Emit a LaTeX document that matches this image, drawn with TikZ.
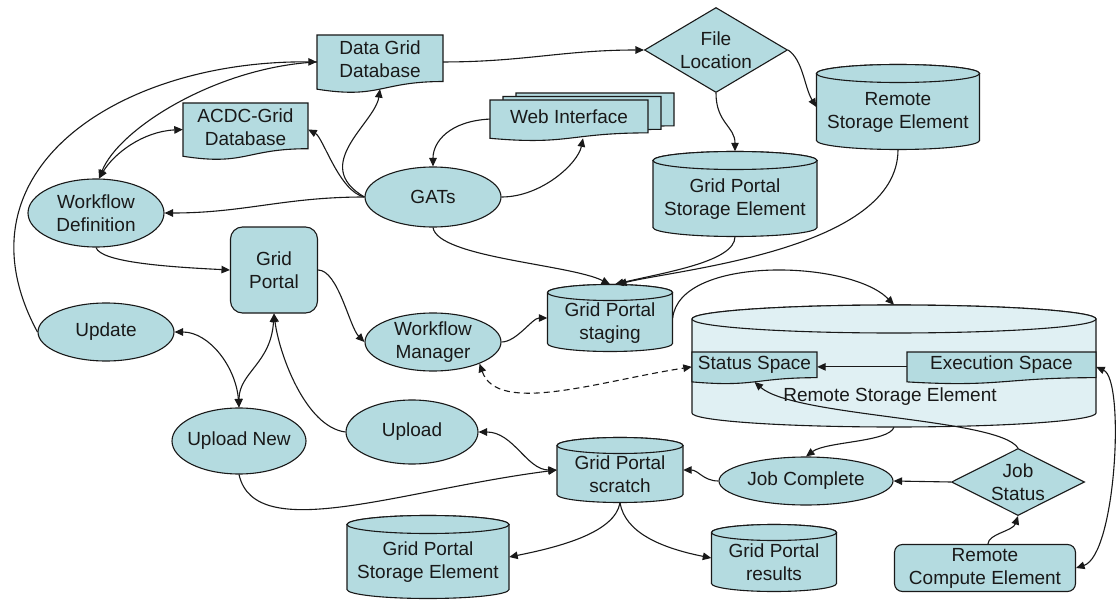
\documentclass[tikz,border=0pt]{standalone}
\usepackage{fontspec}
\setmainfont{Liberation Sans}
\usetikzlibrary{arrows.meta,shapes.geometric}

\definecolor{nodefill}{RGB}{180,219,224}
\definecolor{palefill}{RGB}{224,240,243}
\definecolor{inkline}{RGB}{25,25,25}
\definecolor{inktext}{RGB}{25,25,25}

\tikzset{
  >={Triangle[length=8.5pt,width=7.5pt]},
  lbl/.style={font=\fontsize{19}{23}\selectfont, text=inktext, align=center, inner sep=0pt},
  shapeline/.style={draw=inkline, line width=1.1pt, fill=nodefill},
  oval/.style={lbl, ellipse, shapeline, inner xsep=-20pt, inner ysep=-6pt},
  decision/.style={lbl, diamond, shapeline, aspect=1, inner xsep=-20pt, inner ysep=-8pt},
  roundbox/.style={lbl, rectangle, shapeline, rounded corners=#1},
  conn/.style={draw=inkline, line width=1.1pt},
}

% cylinder (database) with a transparent rectangle node on top;
% the enlarged text height lowers the two-line label below the top cap
% #1 fill, #2 name, #3 cx, #4 cy, #5 width, #6 height, #7 cap radius, #8 text
\newcommand{\dbnode}[8][nodefill]{%
  \pgfmathsetmacro\dbL{#3-#5/2}%
  \pgfmathsetmacro\dbR{#3+#5/2}%
  \pgfmathsetmacro\dbT{#4-#6/2+#7}%
  \pgfmathsetmacro\dbB{#4+#6/2-#7}%
  \pgfmathsetmacro\dbRX{#5/2}%
  \path[shapeline,fill=#1] (\dbL,\dbT) -- (\dbL,\dbB)
     arc[start angle=180,end angle=360,x radius=\dbRX pt,y radius=#7pt]
     -- (\dbR,\dbT)
     arc[start angle=0,end angle=180,x radius=\dbRX pt,y radius=#7pt] -- cycle;
  \path[shapeline,fill=#1] (#3,\dbT) ellipse[x radius=\dbRX pt,y radius=#7pt];
  \node[lbl,text height=46pt,minimum width=#5pt,minimum height=#6pt] (#2) at (#3,#4) {#8};
}

% document outline with a wavy lower edge
% #2 left, #3 top, #4 width, #5 height
\newcommand{\docpath}[5][]{%
  \pgfmathsetmacro\dcR{#2+#4}%
  \pgfmathsetmacro\dcM{#2+#4/2}%
  \pgfmathsetmacro\dcA{#3+0.802*#5}%
  \pgfmathsetmacro\dcB{#3+1.107*#5}%
  \pgfmathsetmacro\dcC{#3+0.934*#5}%
  \path[shapeline,#1] (#2,#3) -- (\dcR,#3) -- (\dcR,\dcA)
     .. controls (\dcM,\dcA) and (\dcM,\dcB) .. (#2,\dcC) -- cycle;
}
% #1 text height, #2 name, #3 left, #4 top, #5 width, #6 height, #7 text
\newcommand{\docnode}[7][10pt]{%
  \docpath{#3}{#4}{#5}{#6}%
  \pgfmathsetmacro\dcX{#3+#5/2}%
  \pgfmathsetmacro\dcY{#4+0.465*#6}%
  \pgfmathsetmacro\dcH{0.93*#6}%
  \node[lbl,text height=#1,minimum width=#5pt,minimum height=\dcH pt] (#2) at (\dcX,\dcY) {#7};
}

\begin{document}
\begin{tikzpicture}[x=1pt,y=-1pt]
\path[fill=white,use as bounding box] (0,0) rectangle (1120,602);

% ---------- stores ----------
\dbnode{rse1}{898}{107}{163}{85}{9}{Remote\\Storage Element}
\dbnode{gpse1}{735}{194}{164}{85}{9}{Grid Portal\\Storage Element}
\dbnode{staging}{610}{318}{125}{67}{8}{Grid Portal\\staging}
\dbnode[palefill]{rse2}{894}{366}{404}{122}{14}{}
\node[lbl] (rse2label) at (890,397) {Remote Storage Element};
\dbnode{scratch}{620}{470}{126}{65}{8}{Grid Portal\\scratch}
\dbnode{gpse2}{428}{557}{162}{83}{9}{Grid Portal\\Storage Element}
\dbnode{results}{774}{558}{125}{67}{8}{Grid Portal\\results}

% ---------- documents ----------
\docnode[32pt]{dgdb}{317}{35}{126}{58}{Data Grid\\Database}
\docnode[32pt]{acdc}{183}{103}{125}{57}{ACDC-Grid\\Database}
\docpath{516}{93}{158}{41}
\docpath{503}{96.5}{158}{41}
\docnode{web}{490}{100}{158}{41}{Web Interface}
\docnode{status}{692}{352}{125}{32}{Status Space}
\docnode{exec}{907}{352}{189}{32}{Execution Space}

% ---------- processes ----------
\node[oval,minimum width=136pt,minimum height=60pt] (gats) at (433,197) {GATs};
\node[oval,minimum width=136pt,minimum height=68pt] (wfd) at (96,213) {Workflow\\Definition};
\node[oval,minimum width=136pt,minimum height=58pt] (update) at (106,332) {Update};
\node[oval,minimum width=136pt,minimum height=58pt] (wfm) at (433,342) {Workflow\\Manager};
\node[oval,minimum width=134pt,minimum height=66pt] (uploadnew) at (239,441) {Upload New};
\node[oval,minimum width=132pt,minimum height=64pt] (upload) at (412,432) {Upload};
\node[oval,minimum width=174pt,minimum height=48pt] (jobc) at (806,481) {Job Complete};

\node[roundbox=12pt,minimum width=87pt,minimum height=86pt] (gp) at (274,270) {Grid\\Portal};
\node[roundbox=8pt,minimum width=181pt,minimum height=47pt] (rce) at (985,568) {Remote\\Compute Element};

\node[decision,minimum width=143pt,minimum height=85pt] (fileloc) at (716,50) {File\\Location};
\node[decision,minimum width=133pt,minimum height=67pt] (jobstatus) at (1018,482) {Job\\Status};

% ---------- connectors ----------
\draw[conn,->] (dgdb.east) .. controls +(80,0) and +(-80,0) .. (fileloc.west);
\draw[conn,->] (fileloc.east) .. controls +(15,10) and +(-12,-20) .. (rse1.west);
\draw[conn,->] (fileloc.south) .. controls +(0,30) and +(0,-25) .. (gpse1.north);
\draw[conn,->] (rse1.south) .. controls +(0,100) and +(60,-15) .. ([xshift=8pt]staging.north);
\draw[conn,->] (gpse1.south) .. controls +(0,25) and +(50,-12) .. ([xshift=5pt]staging.north);
\draw[conn,->] (gats.south) .. controls +(5,30) and +(-40,-20) .. (staging.north);

\draw[conn,->] (gats.east) .. controls +(40,0) and +(-5,25) .. ([xshift=14pt]web.south);
\draw[conn,->] (web.west) .. controls +(-40,2) and +(0,-25) .. (gats.north);
\draw[conn,->] (gats.west) .. controls +(-25,-5) and +(15,8) .. (acdc.east);
\draw[conn,->] (gats.west) .. controls +(-55,-32) and +(-5,34) .. (dgdb.south);
\draw[conn,->] (gats.west) .. controls +(-80,0) and +(80,0) .. (wfd.east);

\draw[conn,->] (dgdb.west) .. controls +(-100,5) and +(20,-50) .. (wfd.85);
\draw[conn,<->] (acdc.west) .. controls +(-40,2) and +(15,-25) .. (wfd.85);
\draw[conn,->] (update.west) .. controls (-50,170) and (120,60) .. (dgdb.west);

\draw[conn,->] (wfd.south) .. controls +(5,15) and +(-60,-3) .. (gp.west);
\draw[conn,->] (gp.east) .. controls +(20,0) and +(-15,-15) .. (wfm.west);
\draw[conn,->] (wfm.east) .. controls +(15,0) and +(-15,0) .. (staging.west);
\draw[conn,->] (staging.east) .. controls +(7,-63) and +(-44,-45) .. (rse2.north);

\draw[conn,<->,dash pattern=on 6pt off 4pt] (wfm.-25) .. controls +(18,52) and +(-92,14) .. (status.west);
\draw[conn,->] (exec.west) -- (status.east);
\draw[conn,->] (jobstatus.north) .. controls +(-20,-30) and +(40,35) .. (status.south);
\draw[conn,->] (rse2.south) .. controls +(-5,15) and +(20,-15) .. (jobc.north);
\draw[conn,->] (jobstatus.west) -- (jobc.east);
\draw[conn,->] (jobc.west) .. controls +(-15,0) and +(15,0) .. (scratch.east);
\draw[conn,->] ([xshift=3pt]rce.north) .. controls +(0,-10) and +(-5,15) .. (jobstatus.south);
\draw[conn,<->] (rce.east) .. controls +(40,-13) and +(29,13) .. (exec.east);

\draw[conn,->] (scratch.south) .. controls +(-5,30) and +(50,-10) .. (gpse2.east);
\draw[conn,->] (scratch.south) .. controls +(5,30) and +(-50,-10) .. (results.west);
\draw[conn,<->] (upload.east) .. controls +(35,0) and +(-30,0) .. (scratch.west);
\draw[conn,->] (uploadnew.south) .. controls +(16,71) and +(-157,20) .. (scratch.west);
\draw[conn,->] (upload.west) .. controls +(-40,-5) and +(5,40) .. (gp.south);
\draw[conn,<->] (gp.south) .. controls +(-3,50) and +(0,-35) .. (uploadnew.north);
\draw[conn,<->] (update.east) .. controls +(35,0) and +(-3,-40) .. (uploadnew.north);
\end{tikzpicture}
\end{document}
